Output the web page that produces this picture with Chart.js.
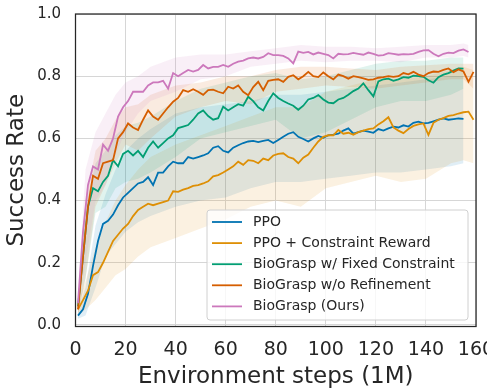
<!DOCTYPE html>
<html>
<head>
<meta charset="utf-8">
<script src="https://cdn.jsdelivr.net/npm/chart.js@4.4.1/dist/chart.umd.min.js"></script>
<style>
  html, body { margin: 0; padding: 0; background: #fff; }
  #wrap { width: 487px; height: 389px; }
</style>
</head>
<body>
<div id="wrap"><canvas id="successChart"></canvas></div>
<script>
// x positions (environment steps, 1M)
const steps = [1,3,5,7,9,11,13,15,17,19,21,23,25,27,29,31,33,35,37,39,
  41,43,45,47,49,51,53,55,57,59,61,63,65,67,69,71,73,75,77,79,
  81,83,85,87,89,91,93,95,97,99,101,103,105,107,109,111,113,115,117,119,
  121,123,125,127,129,131,133,135,137,139,141,143,145,147,149,151,153,155,157,159];

const labels = ['PPO', 'PPO + Constraint Reward', 'BioGrasp w/ Fixed Constraint', 'BioGrasp w/o Refinement', 'BioGrasp (Ours)'];
const colors = ['#0173b2', '#de8f05', '#029e73', '#d55e00', '#cc78bc'];

// mean success rate
const ppo = [0.03,0.05,0.10,0.19,0.27,0.325,0.335,0.355,0.385,0.41,0.425,0.44,0.455,0.46,0.475,0.45,0.49,0.49,0.51,0.525,
  0.52,0.52,0.54,0.535,0.54,0.545,0.552,0.57,0.575,0.56,0.555,0.57,0.578,0.585,0.59,0.592,0.588,0.592,0.595,0.585,
  0.595,0.605,0.615,0.62,0.605,0.598,0.59,0.6,0.608,0.602,0.61,0.612,0.615,0.625,0.632,0.615,0.62,0.625,0.622,0.618,
  0.63,0.625,0.632,0.638,0.635,0.642,0.638,0.65,0.654,0.648,0.65,0.655,0.66,0.664,0.66,0.662,0.664,0.663];
const ppoReward = [0.05,0.08,0.11,0.16,0.17,0.20,0.235,0.27,0.29,0.31,0.325,0.35,0.37,0.38,0.39,0.385,0.39,0.395,0.40,0.43,
  0.428,0.435,0.44,0.447,0.45,0.455,0.462,0.478,0.482,0.49,0.50,0.51,0.525,0.515,0.53,0.528,0.52,0.535,0.53,0.545,
  0.55,0.552,0.54,0.535,0.52,0.538,0.548,0.57,0.59,0.605,0.61,0.61,0.627,0.615,0.618,0.612,0.62,0.625,0.63,0.632,
  0.645,0.655,0.668,0.635,0.625,0.617,0.63,0.64,0.645,0.648,0.611,0.65,0.66,0.665,0.672,0.675,0.68,0.684,0.686,0.66];
const fixedConstraint = [0.06,0.22,0.38,0.44,0.43,0.46,0.48,0.53,0.51,0.55,0.56,0.545,0.56,0.54,0.57,0.59,0.57,0.585,0.6,0.61,
  0.633,0.638,0.643,0.66,0.68,0.69,0.672,0.66,0.665,0.702,0.69,0.7,0.71,0.705,0.734,0.72,0.7,0.69,0.72,0.745,
  0.73,0.72,0.712,0.705,0.692,0.705,0.725,0.73,0.739,0.725,0.715,0.713,0.725,0.73,0.74,0.752,0.76,0.777,0.755,0.735,
  0.783,0.79,0.792,0.785,0.79,0.797,0.795,0.802,0.8,0.798,0.787,0.779,0.797,0.805,0.81,0.818,0.825,0.824];
const noRefine = [0.05,0.22,0.38,0.48,0.47,0.52,0.525,0.53,0.60,0.62,0.648,0.635,0.627,0.66,0.69,0.67,0.66,0.68,0.70,0.718,
  0.73,0.755,0.75,0.758,0.75,0.74,0.755,0.757,0.75,0.745,0.766,0.76,0.77,0.75,0.739,0.765,0.782,0.755,0.785,0.788,
  0.79,0.782,0.798,0.803,0.79,0.8,0.814,0.8,0.797,0.812,0.8,0.79,0.805,0.80,0.792,0.8,0.797,0.793,0.788,0.79,
  0.795,0.797,0.8,0.798,0.8,0.81,0.806,0.814,0.805,0.80,0.81,0.815,0.814,0.82,0.825,0.813,0.822,0.815,0.782,0.814];
const ours = [0.07,0.30,0.45,0.51,0.50,0.58,0.56,0.60,0.67,0.70,0.72,0.75,0.75,0.75,0.77,0.78,0.78,0.785,0.76,0.81,
  0.80,0.81,0.82,0.815,0.82,0.836,0.825,0.83,0.83,0.836,0.83,0.84,0.847,0.85,0.857,0.86,0.857,0.862,0.874,0.868,
  0.868,0.865,0.857,0.841,0.879,0.875,0.878,0.87,0.876,0.872,0.868,0.857,0.872,0.87,0.871,0.875,0.872,0.869,0.876,0.872,
  0.866,0.868,0.874,0.872,0.869,0.871,0.87,0.872,0.878,0.883,0.884,0.872,0.864,0.872,0.876,0.874,0.882,0.886,0.878];

// shaded spread (upper / lower)
const bandSteps = [1,4,8,12,16,20,25,30,40,50,60,70,80,90,100,110,120,130,140,150,155];
const bandStepsLong = [1,4,8,12,16,20,25,30,40,50,60,70,80,90,100,110,120,130,140,150,155,159];
const bandStepsOurs = [1,4,8,12,16,20,25,30,40,50,60,70,80,90,100,110,120,130,140,150,155,157];

const ppoUpper = [0.05,0.12,0.32,0.42,0.50,0.56,0.60,0.63,0.68,0.70,0.71,0.72,0.74,0.74,0.75,0.76,0.77,0.78,0.79,0.80,0.80];
const ppoLower = [0.02,0.03,0.12,0.22,0.26,0.30,0.33,0.35,0.38,0.40,0.41,0.44,0.46,0.46,0.47,0.48,0.49,0.49,0.50,0.51,0.52];
const ppoRewardUpper = [0.07,0.14,0.25,0.33,0.40,0.45,0.50,0.54,0.58,0.61,0.64,0.67,0.70,0.70,0.75,0.77,0.79,0.79,0.80,0.82,0.83,0.82];
const ppoRewardLower = [0.03,0.05,0.08,0.12,0.16,0.18,0.22,0.25,0.28,0.31,0.34,0.38,0.40,0.38,0.44,0.46,0.48,0.46,0.47,0.52,0.53,0.52];
const fixedUpper = [0.08,0.38,0.52,0.56,0.61,0.64,0.65,0.67,0.72,0.76,0.78,0.80,0.81,0.79,0.80,0.82,0.84,0.85,0.85,0.86,0.86];
const fixedLower = [0.04,0.15,0.36,0.38,0.44,0.46,0.47,0.49,0.54,0.60,0.62,0.64,0.66,0.60,0.62,0.66,0.70,0.72,0.72,0.74,0.76];
const noRefineUpper = [0.08,0.40,0.56,0.60,0.66,0.70,0.71,0.74,0.77,0.78,0.80,0.80,0.82,0.83,0.83,0.825,0.82,0.83,0.835,0.84,0.84,0.84];
const noRefineLower = [0.03,0.15,0.38,0.45,0.52,0.58,0.56,0.60,0.67,0.70,0.72,0.71,0.75,0.76,0.77,0.765,0.76,0.77,0.78,0.79,0.79,0.76];
const oursUpper = [0.10,0.50,0.62,0.68,0.74,0.78,0.80,0.83,0.86,0.87,0.87,0.88,0.89,0.90,0.895,0.895,0.89,0.895,0.90,0.90,0.905,0.90];
const oursLower = [0.05,0.20,0.40,0.45,0.55,0.62,0.68,0.72,0.75,0.79,0.80,0.83,0.84,0.85,0.845,0.85,0.85,0.845,0.86,0.86,0.865,0.86];

const xTicks = [0, 20, 40, 60, 80, 100, 120, 140, 160];
const yTicks = [0, 0.2, 0.4, 0.6, 0.8, 1.0];

const toXY = (xs, ys) => ys.map((y, i) => ({ x: xs[i], y: y }));

const means = [ppo, ppoReward, fixedConstraint, noRefine, ours];
const bands = [
  [bandSteps, ppoUpper, ppoLower],
  [bandStepsLong, ppoRewardUpper, ppoRewardLower],
  [bandSteps, fixedUpper, fixedLower],
  [bandStepsLong, noRefineUpper, noRefineLower],
  [bandStepsOurs, oursUpper, oursLower]
];

function hexAlpha(hex, a) {
  const n = parseInt(hex.slice(1), 16);
  return `rgba(${(n >> 16) & 255}, ${(n >> 8) & 255}, ${n & 255}, ${a})`;
}

const datasets = [];
means.forEach((ys, i) => {
  datasets.push({
    label: labels[i],
    data: toXY(steps, ys),
    borderColor: colors[i],
    borderWidth: 1.8,
    pointRadius: 0,
    fill: false,
    order: 4 - i
  });
});
bands.forEach(([xs, up, lo], i) => {
  const upIdx = datasets.length;
  datasets.push({
    label: labels[i] + ' upper',
    isBand: true,
    data: toXY(xs, up),
    borderWidth: 0,
    pointRadius: 0,
    backgroundColor: hexAlpha(colors[i], 0.12),
    fill: upIdx + 1,
    order: 20 - i
  });
  datasets.push({
    label: labels[i] + ' lower',
    isBand: true,
    data: toXY(xs, lo),
    borderWidth: 0,
    pointRadius: 0,
    fill: false,
    order: 20 - i
  });
});

const FONT = "'DejaVu Sans', sans-serif";
const TEXT = '#262626';

const framePlugin = {
  id: 'frameAndLegend',
  afterDraw(chart) {
    const { ctx, chartArea: a } = chart;
    ctx.save();
    ctx.strokeStyle = '#262626';
    ctx.lineWidth = 1.25;
    ctx.strokeRect(a.left, a.top, a.right - a.left, a.bottom - a.top);

    // legend inside lower right
    const bx = 207, by = 210, bw = 261, bh = 110;
    ctx.beginPath();
    ctx.roundRect(bx, by, bw, bh, 3);
    ctx.fillStyle = 'rgba(255,255,255,0.8)';
    ctx.fill();
    ctx.strokeStyle = '#d0d0d0';
    ctx.lineWidth = 1;
    ctx.stroke();

    ctx.font = '14px ' + FONT;
    ctx.textBaseline = 'middle';
    ctx.textAlign = 'left';
    labels.forEach((lab, i) => {
      const y = 222 + i * 21.1;
      ctx.beginPath();
      ctx.moveTo(212, y);
      ctx.lineTo(242, y);
      ctx.strokeStyle = colors[i];
      ctx.lineWidth = 1.8;
      ctx.stroke();
      ctx.fillStyle = TEXT;
      ctx.fillText(lab, 253, y);
    });
    ctx.restore();
  }
};

new Chart(document.getElementById('successChart'), {
  type: 'line',
  data: { datasets: datasets },
  options: {
    responsive: true,
    maintainAspectRatio: false,
    animation: false,
    layout: { padding: { top: 14, right: 11, left: 0, bottom: 0 } },
    plugins: {
      legend: { display: false },
      tooltip: { enabled: false },
      filler: { propagate: false }
    },
    scales: {
      x: {
        type: 'linear',
        min: 0,
        max: 160,
        afterBuildTicks: s => { s.ticks = xTicks.map(v => ({ value: v })); },
        afterFit: s => { s.height = 62.5; s.paddingLeft = 0; s.paddingRight = 0; },
        grid: { color: '#d6d6d6', lineWidth: 1, drawTicks: false },
        border: { display: false },
        ticks: {
          color: TEXT,
          padding: 12,
          maxRotation: 0,
          autoSkip: false,
          font: { family: FONT, size: 19 },
          callback: v => String(v)
        },
        title: {
          display: true,
          text: 'Environment steps (1M)',
          color: TEXT,
          font: { family: FONT, size: 23, lineHeight: 1 },
          padding: { top: 0, bottom: 0.5 }
        }
      },
      y: {
        min: -0.005,
        max: 1.0,
        afterBuildTicks: s => { s.ticks = yTicks.map(v => ({ value: v })); },
        afterFit: s => { s.width = 75.5; s.paddingTop = 0; s.paddingBottom = 0; },
        grid: { color: '#d6d6d6', lineWidth: 1, drawTicks: false },
        border: { display: false },
        ticks: {
          color: TEXT,
          padding: 14.5,
          autoSkip: false,
          font: { family: FONT, size: 15 },
          callback: v => Number(v).toFixed(1)
        },
        title: {
          display: true,
          text: 'Success Rate',
          color: TEXT,
          font: { family: FONT, size: 23, lineHeight: 1 },
          padding: { top: 5.5, bottom: 0 }
        }
      }
    }
  },
  plugins: [framePlugin]
});
</script>
</body>
</html>
